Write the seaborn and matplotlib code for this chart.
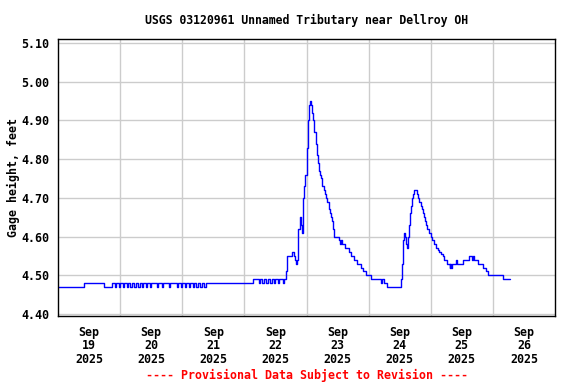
import pandas as pd
import numpy as np
import matplotlib
matplotlib.use('Agg')
import matplotlib.pyplot as plt
import seaborn as sns

# gage height readings, hours after 2025-09-19 00:00 (step changes)
hours=[0,10.0,17.8,20.9,
       22.0,22.5,23.5,24.0,25.0,25.5,26.5,27.0,28.0,28.5,29.5,30.0,31.0,31.5,32.5,33.0,34.0,34.5,35.5,36.0,
       38.2,38.6,40.2,40.6,43.0,43.4,
       46.0,46.5,47.5,48.0,49.0,49.5,50.5,51.0,52.0,52.5,53.5,54.0,55.0,55.5,56.5,57.0,
       75.5,77.5,78.0,79.0,79.5,80.5,81.0,82.0,82.5,83.5,84.0,85.0,85.5,87.0,87.5,
       88.0,88.3,90.5,91.0,91.7,92.1,92.5,92.7,93.3,93.7,94.1,94.6,95.0,95.6,96.2,96.6,97.0,97.4,97.7,
       98.1,98.5,98.8,99.5,99.9,100.4,100.8,101.1,101.6,102.1,102.6,103.0,103.5,104.0,104.5,104.9,
       105.5,105.9,106.4,106.8,108.4,108.9,109.3,109.8,110.7,112.3,113.0,114.2,115.7,116.9,117.7,118.8,
       121.0,124.6,125.2,125.8,126.4,127.2,
       132.4,132.8,133.4,133.7,134.1,134.3,134.9,135.3,135.6,135.9,136.3,136.6,137.2,137.5,138.8,139.1,
       139.5,140.1,140.5,141.0,141.5,141.9,142.3,142.7,143.2,144.0,144.6,145.2,145.9,146.7,147.3,147.9,
       148.6,149.2,150.2,151.3,151.6,152.0,152.4,152.9,153.7,154.1,154.5,156.4,158.7,159.9,160.2,160.6,
       162.2,164.1,165.3,166.1,171.9,174.6]
gage=[4.47,4.48,4.47,4.48,
      4.47,4.48,4.47,4.48,4.47,4.48,4.47,4.48,4.47,4.48,4.47,4.48,4.47,4.48,4.47,4.48,4.47,4.48,4.47,4.48,
      4.47,4.48,4.47,4.48,4.47,4.48,
      4.47,4.48,4.47,4.48,4.47,4.48,4.47,4.48,4.47,4.48,4.47,4.48,4.47,4.48,4.47,4.48,
      4.49,4.48,4.49,4.48,4.49,4.48,4.49,4.48,4.49,4.48,4.49,4.48,4.49,4.48,4.49,
      4.51,4.55,4.56,4.55,4.54,4.53,4.54,4.62,4.65,4.63,4.61,4.70,4.73,4.76,4.83,4.90,4.94,4.95,4.94,
      4.92,4.90,4.87,4.84,4.81,4.79,4.77,4.76,4.75,4.73,4.72,4.71,4.70,4.69,4.67,4.66,
      4.65,4.64,4.62,4.60,4.59,4.58,4.59,4.58,4.57,4.56,4.55,4.54,4.53,4.52,4.51,4.50,
      4.49,4.48,4.49,4.48,4.48,4.47,
      4.49,4.53,4.59,4.61,4.60,4.58,4.57,4.60,4.63,4.66,4.68,4.70,4.71,4.72,4.71,4.70,
      4.69,4.68,4.67,4.66,4.65,4.64,4.63,4.62,4.61,4.60,4.59,4.58,4.57,4.565,4.56,4.555,
      4.55,4.54,4.53,4.52,4.53,4.52,4.53,4.53,4.54,4.53,4.53,4.54,4.55,4.54,4.55,4.54,
      4.53,4.52,4.51,4.50,4.49,4.49]

days=pd.date_range('2025-09-19',periods=9,freq='D')
title='USGS 03120961 Unnamed Tributary near Dellroy OH'
ylabel='Gage height, feet'
footer='---- Provisional Data Subject to Revision ----'

start=pd.Timestamp('2025-09-19')
df=pd.DataFrame({'time':start+pd.to_timedelta(hours,unit='h'),'gage':gage})

sns.set_style('white')
plt.rcParams['font.family']=['DejaVu Sans Mono']
plt.rcParams['font.weight']='bold'
for k in ['text.color','axes.labelcolor','xtick.color','ytick.color']:
    plt.rcParams[k]='black'

fig=plt.figure(figsize=(5.76,3.84),dpi=100)
ax=fig.add_axes([58/576,1-316/384,497/576,277/384])
sns.lineplot(df,x='time',y='gage',color='#0000ff',linewidth=1,drawstyle='steps-post',estimator=None,ax=ax)

ax.set_xlim(days[0],days[-1])
ax.set_ylim(4.3948,5.1103)
yt=np.arange(4.40,5.101,0.10)
ax.set_yticks(yt,[f'{v:.2f}' for v in yt],fontsize=8.4,fontweight='bold')
ax.set_xticks(days[1:-1],['']*7)
noons=days[:-1]+pd.Timedelta(hours=12)
ax.set_xticks(noons,[f'{d:%b}\n{d.day}\n{d:%Y}' for d in days[:-1]],minor=True,fontsize=8.4,fontweight='bold',linespacing=1.05)
ax.tick_params(axis='both',which='both',length=0)
ax.tick_params(axis='x',which='minor',pad=7)
ax.tick_params(axis='y',pad=6)
ax.grid(True,which='major',color='#cccccc',linewidth=1)
for s in ax.spines.values():
    s.set_color('black')
    s.set_linewidth(1)
ax.set_xlabel('')
ax.set_ylabel(ylabel,fontsize=8.4,fontweight='bold',labelpad=1)
xc=(58+555)/2/576
fig.text(xc,1-20/384,title,ha='center',va='center',fontsize=8.3,fontweight='bold')
fig.text(xc,1-375/384,footer,ha='center',va='center',fontsize=8.4,fontweight='bold',color='red')
plt.savefig('out.png',dpi=100)
